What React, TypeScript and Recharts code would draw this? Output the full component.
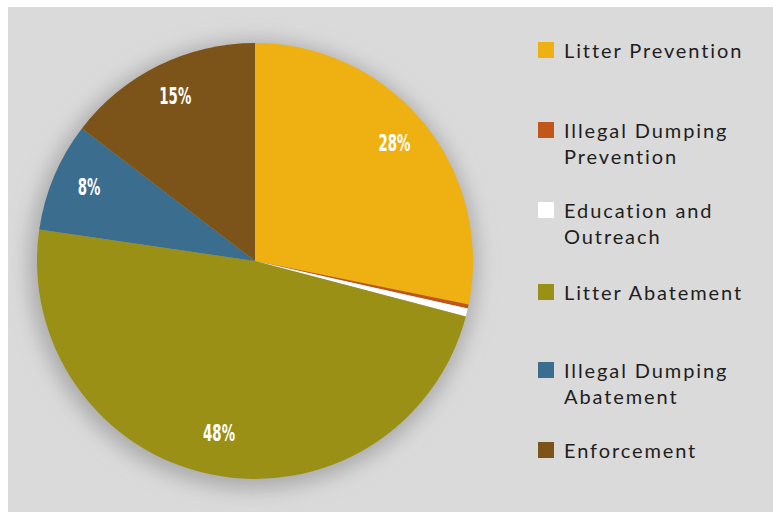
import React from 'react';
import { PieChart, Pie, Cell, Legend } from 'recharts';

const categories = [
  'Litter Prevention',
  'Illegal Dumping Prevention',
  'Education and Outreach',
  'Litter Abatement',
  'Illegal Dumping Abatement',
  'Enforcement',
];
const legendLines = [
  ['Litter Prevention'],
  ['Illegal Dumping', 'Prevention'],
  ['Education and', 'Outreach'],
  ['Litter Abatement'],
  ['Illegal Dumping', 'Abatement'],
  ['Enforcement'],
];
const values = [28.2, 0.3, 0.6, 48.2, 8.1, 14.6];
const labels = ['28%', '', '', '48%', '8%', '15%'];
const colors = ['#EFB111', '#C0561A', '#FFFFFF', '#9A9016', '#3A6D8E', '#7C5419'];

const data = categories.map((name, i) => ({ name, value: values[i], label: labels[i] }));

const RAD = Math.PI / 180;
const renderLabel = (props: any) => {
  const { cx, cy, midAngle, index } = props;
  const text = labels[index];
  if (!text) return null;
  const r = 180;
  const x = cx + r * Math.cos(-midAngle * RAD);
  const y = cy + r * Math.sin(-midAngle * RAD) - 4;
  return (
    <text
      x={0}
      y={0}
      transform={`translate(${x},${y}) scale(0.58,1)`}
      fill="#ffffff"
      textAnchor="middle"
      dominantBaseline="central"
      style={{ fontFamily: '"DejaVu Sans", sans-serif', fontWeight: 700, fontSize: 23 }}
    >
      {text}
    </text>
  );
};

const LegendContent = () => (
  <div style={{ position: 'relative', width: 240, height: 460 }}>
    {legendLines.map((lines, i) => (
      <div key={i} style={{ position: 'absolute', left: 0, top: i * 80 + (i === 3 ? 2 : 0), display: 'flex', alignItems: 'flex-start' }}>
        <div style={{ width: 16, height: 16, background: colors[i], marginTop: 5, marginRight: 10 }} />
        <div style={{ fontFamily: 'Lato, sans-serif', fontSize: 20, lineHeight: '26px', color: '#1e1e1e', letterSpacing: 1.9 }}>
          {lines.map((l, j) => (
            <div key={j} style={{ whiteSpace: 'nowrap' }}>{l}</div>
          ))}
        </div>
      </div>
    ))}
  </div>
);

export default function App() {
  return (
    <div style={{ position: 'absolute', left: 8, top: 7, width: 765, height: 505, background: '#DADADA' }}>
      <PieChart width={765} height={505} margin={{ top: 0, right: 0, bottom: 0, left: 0 }}>
        <defs>
          <filter id="pieShadow" x="-20%" y="-20%" width="140%" height="140%">
            <feGaussianBlur stdDeviation="10" />
          </filter>
        </defs>
        <Pie
          data={[{ name: 'shadow', value: 1 }]}
          dataKey="value"
          cx={245}
          cy={258}
          outerRadius={224}
          startAngle={90}
          endAngle={-270}
          fill="#aaaaaa"
          stroke="none"
          isAnimationActive={false}
          style={{ filter: 'url(#pieShadow)' }}
          legendType="none"
        />
        <Pie
          data={data}
          dataKey="value"
          nameKey="name"
          cx={247}
          cy={254}
          outerRadius={218}
          startAngle={90}
          endAngle={-270}
          stroke="none"
          label={renderLabel}
          labelLine={false}
          isAnimationActive={false}
        >
          {data.map((d, i) => (
            <Cell key={i} fill={colors[i]} />
          ))}
        </Pie>
        <Legend
          layout="vertical"
          verticalAlign="top"
          align="right"
          content={<LegendContent />}
          wrapperStyle={{ left: 530, top: 30, width: 240 }}
        />
      </PieChart>
    </div>
  );
}
